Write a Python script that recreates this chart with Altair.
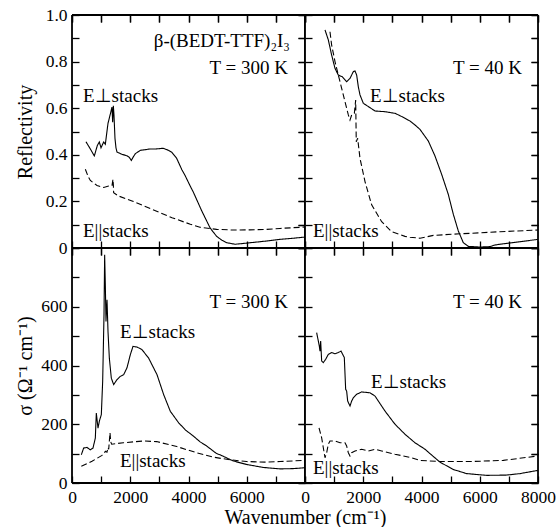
import json
import altair as alt
import pandas as pd

# ---------------- data ----------------
# Reflectivity, T = 300 K
R300_PERP_WN = [480, 630, 766, 870, 938, 996, 1087, 1144, 1236, 1316, 1373, 1396, 1420, 1442, 1476, 1510,
                1545, 1717, 1888, 1960, 2037, 2100, 2175, 2346, 2678, 2861, 3135, 3300, 3433, 3593, 3776,
                3879, 4062, 4165, 4452, 4738, 4852, 4967, 5150, 5310, 5596, 5997, 6684, 7141, 7598, 8000]
R300_PERP_V = [0.456, 0.425, 0.395, 0.44, 0.455, 0.43, 0.455, 0.445, 0.535, 0.575, 0.605, 0.54, 0.61, 0.57,
               0.47, 0.43, 0.412, 0.402, 0.396, 0.39, 0.376, 0.39, 0.405, 0.419, 0.425, 0.425, 0.428, 0.42,
               0.41, 0.385, 0.335, 0.312, 0.265, 0.24, 0.16, 0.087, 0.068, 0.05, 0.033, 0.023, 0.016,
               0.021, 0.03, 0.037, 0.042, 0.047]
R300_PARA_WN = [458, 560, 630, 858, 1087, 1259, 1373, 1407, 1420, 1430, 1602, 2060, 2746, 3433, 4062,
                4394, 4967, 5538, 6100, 6684, 7141, 8000]
R300_PARA_V = [0.338, 0.305, 0.29, 0.268, 0.26, 0.266, 0.268, 0.295, 0.27, 0.237, 0.223, 0.202, 0.166,
               0.13, 0.102, 0.089, 0.08, 0.077, 0.078, 0.08, 0.084, 0.09]

# Reflectivity, T = 40 K
R40_PERP_WN = [687, 801, 915, 1030, 1144, 1282, 1431, 1545, 1659, 1717, 1774, 1831, 1888, 2003, 2174,
               2403, 2746, 3090, 3261, 3433, 3604, 3776, 3948, 4234, 4463, 4692, 4920, 5092, 5264, 5435,
               5607, 6008, 6351, 6523, 6809, 7381, 8000]
R40_PERP_V = [0.936, 0.893, 0.828, 0.771, 0.742, 0.735, 0.714, 0.728, 0.757, 0.76, 0.742, 0.692, 0.657,
              0.621, 0.607, 0.588, 0.585, 0.578, 0.568, 0.557, 0.545, 0.528, 0.509, 0.459, 0.395, 0.316,
              0.23, 0.145, 0.073, 0.023, 0.007, 0.004, 0.006, 0.013, 0.018, 0.027, 0.037]
R40_PARA_WN = [858, 915, 1030, 1144, 1259, 1373, 1488, 1545, 1602, 1694, 1740, 1760, 1808, 1888, 2060,
               2289, 2632, 2975, 3261, 3433, 3604, 3948, 4406, 5321, 5664, 6694, 8000]
R40_PARA_V = [0.928, 0.871, 0.8, 0.742, 0.685, 0.628, 0.571, 0.549, 0.571, 0.578, 0.635, 0.456, 0.471,
              0.385, 0.285, 0.185, 0.113, 0.07, 0.058, 0.05, 0.046, 0.042, 0.054, 0.061, 0.063, 0.07, 0.077]

# Conductivity, T = 300 K
S300_PERP_WN = [320, 400, 515, 630, 721, 801, 835, 893, 938, 1007, 1053, 1099, 1121, 1144, 1167, 1202,
                1236, 1282, 1350, 1430, 1545, 1659, 1774, 1888, 2003, 2094, 2232, 2403, 2632, 2918, 3147,
                3376, 3662, 3900, 4165, 4400, 4623, 4967, 5081, 5538, 5996, 6568, 7141, 7598, 8000]
S300_PERP_V = [96, 119, 121, 113, 119, 153, 238, 187, 210, 233, 346, 573, 777, 675, 550, 624, 516, 425,
               357, 335, 352, 363, 369, 392, 437, 465, 463, 454, 425, 369, 301, 244, 205, 180, 160, 140,
               126, 100, 96, 75, 63, 53, 48, 49, 52]
S300_PARA_WN = [320, 687, 1030, 1100, 1144, 1200, 1236, 1260, 1282, 1305, 1330, 1362, 1762, 2449, 2907,
                3600, 4281, 4852, 5424, 5996, 6684, 7141, 8000]
S300_PARA_V = [57, 74, 94, 100, 108, 105, 121, 115, 142, 171, 140, 132, 137, 143, 141, 124, 103, 88, 79,
               73, 71, 73, 77]

# Conductivity, T = 40 K
S40_PERP_WN = [400, 458, 492, 515, 538, 572, 629, 710, 801, 915, 1030, 1144, 1236, 1293, 1350, 1396,
               1430, 1465, 1545, 1602, 1659, 1774, 1945, 2232, 2403, 2746, 3090, 3433, 3776, 3948, 4120,
               4292, 4635, 5092, 5549, 6237, 6924, 7381, 8000]
S40_PERP_V = [512, 483, 466, 449, 483, 415, 410, 421, 438, 444, 440, 444, 449, 438, 427, 319, 313, 279,
              262, 279, 290, 302, 310, 307, 296, 245, 200, 166, 137, 126, 115, 100, 71, 46, 32, 26, 27,
              32, 43]
S40_PARA_WN = [481, 572, 629, 687, 744, 801, 858, 1030, 1202, 1373, 1430, 1488, 1545, 1602, 1717, 1945,
               2174, 2403, 2632, 3090, 3662, 3948, 4635, 5664, 6809, 8000]
S40_PARA_V = [188, 154, 120, 86, 103, 132, 143, 143, 137, 137, 126, 103, 92, 103, 109, 115, 109, 115,
              109, 98, 86, 77, 73, 73, 77, 92]

# ticks and labels
X_TICKS = [0, 1000, 2000, 3000, 4000, 5000, 6000, 7000, 8000]
X_LABELS_LEFT = [0, 2000, 4000, 6000]
X_LABELS_RIGHT = [0, 2000, 4000, 6000, 8000]
R_TICKS = [0, 0.1, 0.2, 0.3, 0.4, 0.5, 0.6, 0.7, 0.8, 0.9, 1.0]
R_LABELS = [0, 0.2, 0.4, 0.6, 0.8, 1.0]
S_TICKS = [0, 100, 200, 300, 400, 500, 600, 700, 800]
S_LABELS = [0, 200, 400, 600]

PERP = "E\u22a5stacks"
PARA = "E||stacks"
NOTES_R300 = [("\u03b2-(BEDT-TTF)\u2082I\u2083", 7484, 0.888, "right"), ("T = 300 K", 7415, 0.773, "right"),
              (PERP, 378, 0.652, "left"), (PARA, 378, 0.073, "left")]
NOTES_R40 = [("T = 40 K", 7450, 0.773, "right"), (PERP, 2231, 0.652, "left"), (PARA, 275, 0.073, "left")]
NOTES_S300 = [("T = 300 K", 7415, 616, "right"), (PERP, 1648, 514, "left"), (PARA, 1648, 75, "left")]
NOTES_S40 = [("T = 40 K", 7450, 616, "right"), (PERP, 2266, 344, "left"), (PARA, 275, 51, "left")]

# ---------------- styling ----------------
FONT = "'Liberation Serif', 'Times New Roman', Times, serif"
W = 233
TL = 7


def lab_expr(labels, fmt):
    return ("indexof(" + json.dumps(labels) + ", datum.value) >= 0 ? "
            "(datum.value == 0 ? '0' : format(datum.value, '" + fmt + "')) : ''")


def tick_axis(orient, values, labels=None, fmt="d", title=None, title_x=None, title_y=None):
    kw = dict(orient=orient, values=values, offset=-TL, ticks=True, tickSize=TL, tickWidth=1.3,
              tickColor="black", domain=False, grid=False, labelFlush=False, labelOverlap=False,
              labelPadding=5, labelFontSize=17.5, labelFont=FONT, labelColor="black", title=title)
    if labels is None:
        kw["labels"] = False
    else:
        kw["labelExpr"] = lab_expr(labels, fmt)
    if title:
        kw.update(titleFont=FONT, titleColor="black", titleFontWeight="normal", titleFontSize=20)
        if orient == "bottom":
            kw.update(titleX=title_x, titleAlign="center", titlePadding=2)
        else:
            kw.update(titleX=title_x, titleY=title_y, titleAngle=270, titleAlign="center",
                      titleBaseline="middle")
    return alt.Axis(**kw)


def panel(perp_wn, perp_v, para_wn, para_v, ydom, yticks, height, xlabels, ylabels, yfmt,
          ytitle, xtitle, notes):
    rows = []
    for i, (w, v) in enumerate(zip(perp_wn, perp_v)):
        rows.append(dict(wn=w, v=v, pol="perp", i=i))
    for i, (w, v) in enumerate(zip(para_wn, para_v)):
        rows.append(dict(wn=w, v=v, pol="para", i=i))
    df = pd.DataFrame(rows)
    xs = alt.Scale(domain=[0, 8000], nice=False, zero=False)
    ys = alt.Scale(domain=ydom, nice=False, zero=False)

    bottom = tick_axis("bottom", X_TICKS, xlabels, "d", xtitle, 0)
    left = tick_axis("left", yticks, ylabels, yfmt, ytitle, -47 - TL, height / 2)
    top = tick_axis("top", X_TICKS)
    right = tick_axis("right", yticks)

    lines = alt.Chart(df).mark_line(color="black", strokeWidth=1.1).encode(
        x=alt.X("wn:Q", scale=xs, axis=bottom),
        y=alt.Y("v:Q", scale=ys, axis=left),
        strokeDash=alt.StrokeDash("pol:N", scale=alt.Scale(domain=["perp", "para"], range=[[1, 0], [6, 3]]),
                                  legend=None),
        order="i:Q",
    )
    one = pd.DataFrame({"k": [0]})
    fr = dict(color="black", strokeWidth=1.8)
    f1 = alt.Chart(one).mark_rule(**fr).encode(x=alt.value(0), x2=alt.value(W), y=alt.value(0))
    f2 = alt.Chart(one).mark_rule(**fr).encode(x=alt.value(0), x2=alt.value(W), y=alt.value(height))
    f3 = alt.Chart(one).mark_rule(**fr).encode(y=alt.value(0), y2=alt.value(height), x=alt.value(0))
    f4 = alt.Chart(one).mark_rule(**fr).encode(y=alt.value(0), y2=alt.value(height), x=alt.value(W))
    layers = [lines, f1, f2, f3, f4]
    nd = pd.DataFrame(notes, columns=["text", "wn", "v", "align"])
    for al in ["left", "right"]:
        sub = nd[nd["align"] == al]
        if len(sub):
            layers.append(alt.Chart(sub).mark_text(font=FONT, fontSize=19, align=al, baseline="middle",
                                                   color="black").encode(
                x=alt.X("wn:Q", scale=xs, axis=top),
                y=alt.Y("v:Q", scale=ys, axis=right),
                text="text:N"))
    return alt.layer(*layers).resolve_axis(x="independent", y="independent").properties(
        width=W, height=height)


p1 = panel(R300_PERP_WN, R300_PERP_V, R300_PARA_WN, R300_PARA_V, [0, 1.0], R_TICKS, 233,
           None, R_LABELS, ".1f", "Reflectivity", None, NOTES_R300)
p2 = panel(R40_PERP_WN, R40_PERP_V, R40_PARA_WN, R40_PARA_V, [0, 1.0], R_TICKS, 233,
           None, None, ".1f", None, None, NOTES_R40)
p3 = panel(S300_PERP_WN, S300_PERP_V, S300_PARA_WN, S300_PARA_V, [0, 800], S_TICKS, 235,
           X_LABELS_LEFT, S_LABELS, "d", "\u03c3 (\u03a9\u207b\u00b9 cm\u207b\u00b9)", None, NOTES_S300)
p4 = panel(S40_PERP_WN, S40_PERP_V, S40_PARA_WN, S40_PARA_V, [0, 800], S_TICKS, 235,
           X_LABELS_RIGHT, None, "d", None, "Wavenumber (cm\u207b\u00b9)", NOTES_S40)

chart = alt.concat(p1, p2, p3, p4, columns=2, spacing=0, bounds="flush").properties(
    padding={"left": 14, "top": 5, "right": 0, "bottom": 0}
).configure_view(stroke=None).configure_axis(
    labelFont=FONT, titleFont=FONT
).configure(background="white", font=FONT)

chart.save("out.html", embed_options={"renderer": "svg", "actions": False})
